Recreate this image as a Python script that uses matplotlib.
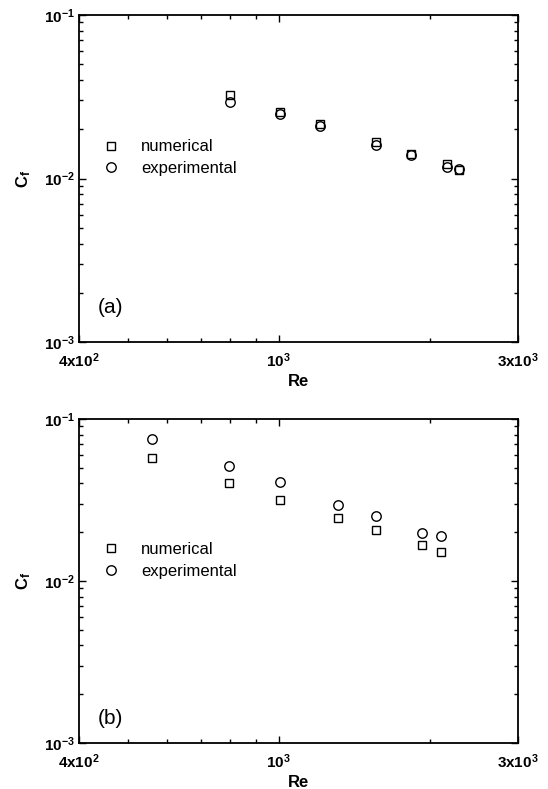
import numpy as np
import matplotlib
matplotlib.use('Agg')
import matplotlib.pyplot as plt
from matplotlib.ticker import LogLocator, FixedLocator, NullFormatter

# Datos
re_a = [800, 1005, 1210, 1560, 1835, 2170, 2290]
cf_num_a = [0.0324, 0.0256, 0.0215, 0.0168, 0.0141, 0.0122, 0.0113]
cf_exp_a = [0.0295, 0.0248, 0.0209, 0.0161, 0.0139, 0.0117, 0.0115]

re_b = [558, 797, 1007, 1311, 1563, 1930, 2111]
cf_num_b = [0.0574, 0.0402, 0.0317, 0.0244, 0.0207, 0.0166, 0.0151]
cf_exp_b = [0.0755, 0.0510, 0.0406, 0.0294, 0.0252, 0.0199, 0.0189]

xticks = [400, 1000, 3000]
xticklabels = ['4x10$^2$', '10$^3$', '3x10$^3$']
yticks = [1e-3, 1e-2, 1e-1]
yticklabels = ['10$^{-3}$', '10$^{-2}$', '10$^{-1}$']

plt.rcParams['font.family'] = ['Liberation Sans', 'DejaVu Sans']
plt.rcParams['mathtext.fontset'] = 'custom'
plt.rcParams['mathtext.rm'] = 'Liberation Sans:bold'
plt.rcParams['mathtext.it'] = 'Liberation Sans:bold'
plt.rcParams['mathtext.bf'] = 'Liberation Sans:bold'

fig = plt.figure(figsize=(5.48, 7.89), dpi=100)
W, H = 548, 789


def make_axes(top, bottom):
    left, right = 79, 518
    return fig.add_axes([left / W, (H - bottom) / H, (right - left) / W, (bottom - top) / H])


def style_axes(ax, re, cf_num, cf_exp, tag, tag_y):
    ax.set_xscale('log')
    ax.set_yscale('log')
    ax.plot(re, cf_num, ls='none', marker='s', ms=6, mfc='white', mec='black', mew=1.0,
            label='numerical')
    ax.plot(re, cf_exp, ls='none', marker='o', ms=6.8, mfc='none', mec='black', mew=1.0,
            label='experimental')
    ax.set_xlim(400, 3000)
    ax.set_ylim(1e-3, 1e-1)

    ax.xaxis.set_major_locator(FixedLocator(xticks))
    ax.set_xticklabels(xticklabels, fontsize=11, fontweight='bold')
    ax.xaxis.set_minor_locator(LogLocator(base=10, subs=np.arange(2, 10)))
    ax.xaxis.set_minor_formatter(NullFormatter())
    ax.yaxis.set_major_locator(FixedLocator(yticks))
    ax.set_yticklabels(yticklabels, fontsize=11, fontweight='bold')
    ax.yaxis.set_minor_locator(LogLocator(base=10, subs=np.arange(2, 10)))
    ax.yaxis.set_minor_formatter(NullFormatter())

    ax.tick_params(which='both', direction='in', top=True, right=True, width=1.0)
    ax.tick_params(which='major', length=5)
    ax.tick_params(axis='x', which='major', pad=7)
    ax.tick_params(axis='y', which='major', pad=3)
    ax.tick_params(which='minor', length=3)
    for s in ax.spines.values():
        s.set_linewidth(1.3)

    ax.set_xlabel('Re', fontsize=12, fontweight='bold', labelpad=3)
    ax.set_ylabel('C$_f$', fontsize=12, fontweight='bold', labelpad=8)

    ax.legend(loc='upper left', bbox_to_anchor=(0.035, 0.64), frameon=False, fontsize=12,
              handletextpad=1.2, labelspacing=0.4, borderaxespad=0, handlelength=1.2)
    ax.text(0.043, tag_y, tag, transform=ax.transAxes, fontsize=15, va='center')


ax1 = make_axes(15, 342)
style_axes(ax1, re_a, cf_num_a, cf_exp_a, '(a)', 0.104)

ax2 = make_axes(419, 743)
style_axes(ax2, re_b, cf_num_b, cf_exp_b, '(b)', 0.077)

fig.savefig('out.png', dpi=100)
